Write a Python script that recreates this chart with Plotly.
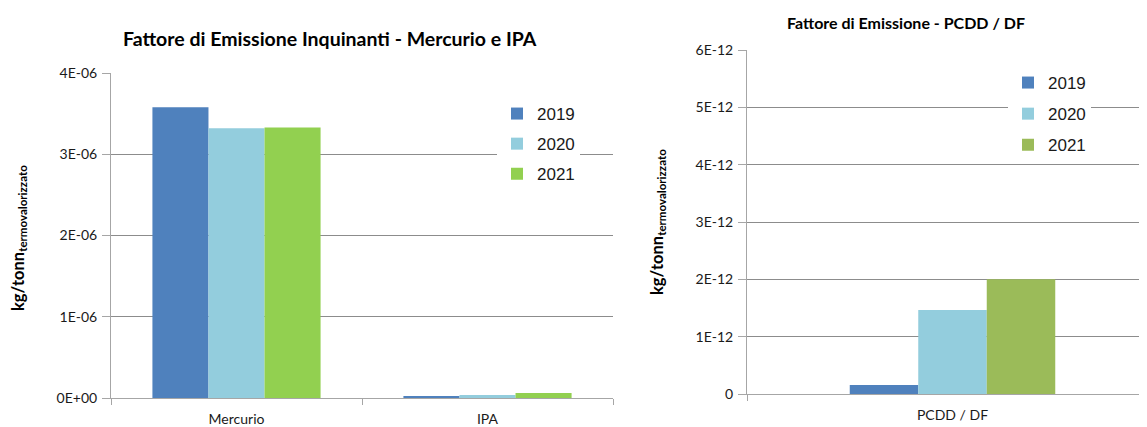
import plotly.graph_objects as go

years = ["2019", "2020", "2021"]
cats_left = ["Mercurio", "IPA"]
vals_left = {
    "2019": [3.58e-6, 0.025e-6],
    "2020": [3.32e-6, 0.037e-6],
    "2021": [3.33e-6, 0.062e-6],
}
cats_right = ["PCDD / DF"]
vals_right = {
    "2019": [0.155e-12],
    "2020": [1.465e-12],
    "2021": [2.0e-12],
}
colors_left = {"2019": "#4F81BD", "2020": "#93CDDD", "2021": "#92D050"}
colors_right = {"2019": "#4F81BD", "2020": "#93CDDD", "2021": "#9BBB59"}

tickvals_left = [0, 1e-6, 2e-6, 3e-6, 4e-6]
ticktext_left = ["0E+00", "1E-06", "2E-06", "3E-06", "4E-06"]
tickvals_right = [0, 1e-12, 2e-12, 3e-12, 4e-12, 5e-12, 6e-12]
ticktext_right = ["0", "1E-12", "2E-12", "3E-12", "4E-12", "5E-12", "6E-12"]

# window size and page body margin offset
WIN_W, WIN_H = 1147, 427
OFF = 8
W, H = WIN_W - OFF, WIN_H - OFF


def px(xp):
    return (xp - OFF) / W


def py(yp):
    return 1 - (yp - OFF) / H


fig = go.Figure()

for y in years:
    fig.add_trace(go.Bar(x=cats_left, y=vals_left[y], name=y, marker_color=colors_left[y],
                         marker_line_width=0, xaxis="x", yaxis="y", legend="legend",
                         legendgroup="L" + y))

R_group = 0.5
for i, y in enumerate(years):
    fig.add_trace(go.Bar(x=cats_right, y=vals_right[y], name=y, marker_color=colors_right[y],
                         marker_line_width=0, xaxis="x2", yaxis="y2", legend="legend2",
                         legendgroup="R" + y, width=R_group / 3,
                         offset=-R_group / 2 + i * R_group / 3))

tick_font = dict(family="Lato, Carlito, sans-serif", size=14, color="#1a1a1a")
legend_font = dict(family="Liberation Sans, Arial", size=17, color="#1a1a1a")
grid = "#8C8C8C"
axis_line = "#A6A6A6"

# pixel geometry of plot areas (window pixels)
L_x0, L_x1, L_y0, L_y1 = 111, 613, 73, 398
R_x0, R_y0, R_y1 = 747, 50, 394
R_catw = 411.0  # px per category on right chart

common_x = dict(showline=True, linecolor=axis_line, ticks="outside", tickson="boundaries",
                tickcolor=axis_line, ticklen=6, showgrid=False, automargin=False,
                tickfont=tick_font, ticklabelstandoff=8, fixedrange=True)
common_y = dict(showline=True, linecolor=axis_line, ticks="outside", tickcolor=axis_line,
                ticklen=8, showgrid=True, gridcolor=grid, gridwidth=1, zeroline=False,
                automargin=False, tickfont=tick_font, ticklabelstandoff=2, fixedrange=True)

ytitle = "<b>kg/tonn<sub>termovalorizzato</sub></b>"
ytitle_font = dict(family="Lato, Carlito, sans-serif", size=16.5, color="#000000")

fig.update_layout(
    width=W, height=H,
    margin=dict(l=0, r=0, t=0, b=0, autoexpand=False),
    paper_bgcolor="white", plot_bgcolor="white",
    barmode="group",
    bargap=0.33, bargroupgap=0,
    xaxis=dict(domain=[px(L_x0), px(L_x1)], anchor="y", **common_x),
    yaxis=dict(domain=[py(L_y1), py(L_y0)], anchor="x", range=[0, 4e-6],
               tickvals=tickvals_left, ticktext=ticktext_left, **common_y),
    xaxis2=dict(domain=[px(R_x0), 1.0], anchor="y2",
                range=[-0.5, (WIN_W - R_x0) / R_catw - 0.5], **common_x),
    yaxis2=dict(domain=[py(R_y1), py(R_y0)], anchor="x2", range=[0, 6e-12],
                tickvals=tickvals_right, ticktext=ticktext_right, **common_y),
    legend=dict(x=px(497), y=py(96), xanchor="left", yanchor="top",
                bgcolor="white", font=legend_font,
                traceorder="grouped", tracegroupgap=5, itemwidth=30),
    legend2=dict(x=px(1008), y=py(65), xanchor="left", yanchor="top",
                 bgcolor="white", font=legend_font,
                 traceorder="grouped", tracegroupgap=6, itemwidth=30),
    annotations=[
        dict(text="<b>Fattore di Emissione Inquinanti - Mercurio e IPA</b>", x=px(330), y=py(38),
             xref="paper", yref="paper", showarrow=False, xanchor="center", yanchor="middle",
             font=dict(family="Lato, Carlito, sans-serif", size=19.5, color="#000000")),
        dict(text="<b>Fattore di Emissione - PCDD / DF</b>", x=px(906), y=py(22),
             xref="paper", yref="paper", showarrow=False, xanchor="center", yanchor="middle",
             font=dict(family="Lato, Carlito, sans-serif", size=16, color="#000000")),
        dict(text=ytitle, x=px(19), y=py(238),
             xref="paper", yref="paper", showarrow=False, xanchor="center", yanchor="middle",
             textangle=-90, font=ytitle_font),
        dict(text=ytitle, x=px(658), y=py(222),
             xref="paper", yref="paper", showarrow=False, xanchor="center", yanchor="middle",
             textangle=-90, font=ytitle_font),
    ],
)

fig.write_html("out.html", config={"displayModeBar": False})
